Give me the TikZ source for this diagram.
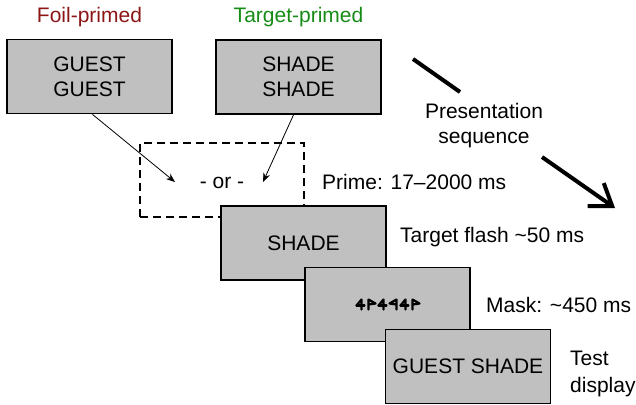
\documentclass[tikz,border=0pt]{standalone}
\usepackage{fontspec}
\setmainfont{Liberation Sans}
\usetikzlibrary{arrows.meta}
\definecolor{boxgray}{RGB}{192,192,192}
\definecolor{foilred}{RGB}{140,22,22}
\definecolor{targetgreen}{RGB}{22,140,22}
\begin{document}
\begin{tikzpicture}[x=1pt,y=-1pt,
  screen/.style={draw=black,line width=1.8pt,fill=boxgray,minimum width=165pt,minimum height=74pt,inner sep=0pt,align=center,font=\fontsize{21}{25}\selectfont},
  lbl/.style={inner sep=0pt,font=\fontsize{21}{25}\selectfont},
  thinarrow/.style={-{Stealth[length=9pt,width=7pt]},line width=0.8pt},
  bigarrow/.style={line width=4pt},
  glyph/.style={line width=2.2pt,line join=round,line cap=round}
]
\useasboundingbox (0,0) rectangle (636,404);
\node[lbl,text=foilred,anchor=base] (foil) at (89.5,23) {Foil-primed};
\node[lbl,text=targetgreen,anchor=base] (targ) at (298.5,23) {Target-primed};
\node[screen] (b1) at (89.5,76.5) {GUEST\\GUEST};
\node[screen] (b2) at (298.5,77) {SHADE\\SHADE};
\node[draw,dash pattern=on 8pt off 5pt,line width=1.8pt,minimum width=164pt,minimum height=74pt,inner sep=0pt] (orbox) at (222,180) {};
\node[lbl,anchor=base] (ortxt) at (222,188) {- or -};
\coordinate (tip1) at (175,182);
\coordinate (tip2) at (263,182);
\draw[thinarrow] ([xshift=3pt]b1.south) -- (tip1);
\draw[thinarrow] ([xshift=-5pt]b2.south) -- (tip2);
\node[screen] (b3) at (303.5,243) {SHADE};
\node[screen] (b4) at (387.5,304.5) {};
\node[screen] (b5) at (468,366.5) {GUEST SHADE};
% mask glyphs
\begin{scope}[shift={(b4.center)},glyph]
  % "4"-like shapes
  \foreach \g in {-31,-9,13}{
    \draw (\g,1) -- (\g+5,-5) -- (\g+5,5);
    \draw (\g,1) -- (\g+8,1);
  }
  % flag shapes
  \foreach \g in {-20,24}{
    \draw (\g+1,5) -- (\g+1,-5) -- (\g+8,-1) -- (\g+1,0);
  }
  % mirrored shape
  \draw (2+7,5) -- (2+7,-5) -- (2,-1) -- (2+7,0);
\end{scope}
% labels
\node[lbl,anchor=base west] (prime) at (322,189) {Prime: 17–2000 ms};
\node[lbl,anchor=base west] (flash) at (400,242) {Target flash \textasciitilde50 ms};
\node[lbl,anchor=base west] (mask) at (486,312) {Mask: \textasciitilde450 ms};
\node[lbl,anchor=base west] (test1) at (570,365) {Test};
\node[lbl,anchor=base west] (test2) at (570,392) {display};
\node[lbl,anchor=base] (pres1) at (484,118) {Presentation};
\node[lbl,anchor=base] (pres2) at (484,143) {sequence};
% big arrow
\coordinate (a1) at (413,59);
\coordinate (a2) at (460,92);
\coordinate (a3) at (542,157);
\coordinate (a4) at (615,208);
\draw[bigarrow] (a1) -- (a2);
\draw[bigarrow,-{Straight Barb[length=20pt,width=28pt]}] (a3) -- (a4);
\end{tikzpicture}
\end{document}
